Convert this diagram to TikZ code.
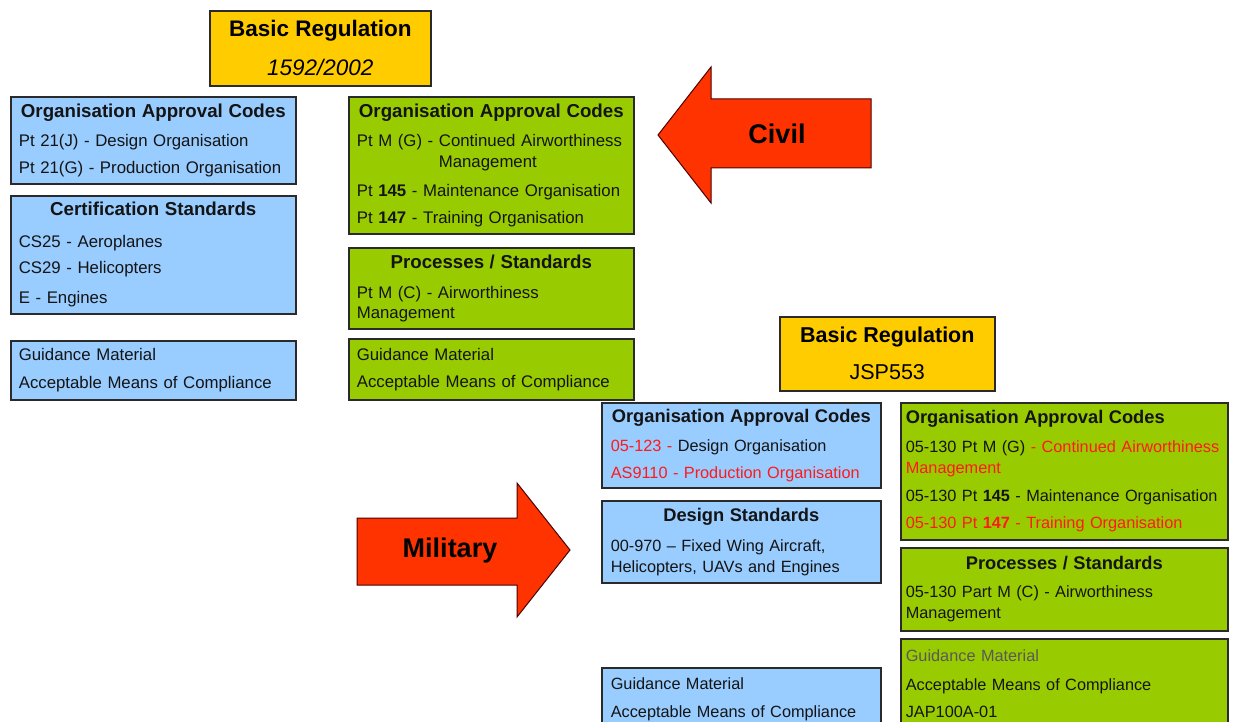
\documentclass[tikz,border=0pt]{standalone}
\usepackage{fontspec}
\setmainfont{Liberation Sans}
\setlength{\parindent}{0pt}

\definecolor{boxblue}{HTML}{99CCFF}
\definecolor{boxgreen}{HTML}{99CC00}
\definecolor{boxyellow}{HTML}{FFCC00}
\definecolor{arrowred}{HTML}{FF3300}
\definecolor{redtext}{HTML}{FF1A1A}
\definecolor{edgegray}{HTML}{2A2A2A}

\newcommand{\civfont}{\fontsize{16.8}{21}\selectfont}
\newcommand{\milfont}{\fontsize{16.3}{21}\selectfont}
\newcommand{\civhead}{\fontsize{18.7}{21}\selectfont\bfseries}
\newcommand{\milhead}{\fontsize{18.3}{21}\selectfont\bfseries}
\newcommand{\boxhead}[2]{\makebox[\hsize][c]{#1#2}}
\newcommand{\rd}[1]{\textcolor{redtext}{#1}}

\tikzset{
  box/.style={draw=edgegray, line width=1.6pt, anchor=north west, inner ysep=0pt, align=left, text=black!92},
  civbox/.style={box, inner xsep=8pt, text width=269pt, minimum width=285pt, minimum height=#1, font=\civfont},
  milLbox/.style={box, fill=boxblue, inner xsep=9pt, text width=261pt, minimum width=279pt, minimum height=#1, font=\milfont},
  milRbox/.style={box, fill=boxgreen, inner xsep=5pt, text width=317pt, minimum width=327pt, minimum height=#1, font=\milfont},
  regbox/.style={draw=edgegray, line width=1.6pt, fill=boxyellow, anchor=north west, align=center, inner sep=0pt},
  bigarrow/.style={fill=arrowred, draw=black!70!red, line width=1pt, line join=miter},
  arrowlabel/.style={font=\fontsize{27}{30}\selectfont\bfseries, inner sep=0pt}
}

\begin{document}
\begin{tikzpicture}[x=1pt, y=-1pt]
\useasboundingbox (0,0) rectangle (1237,722);

% civil side
\node[regbox, minimum width=221pt, minimum height=75pt, font=\fontsize{22.5}{39}\selectfont] (brcivil) at (209,10)
  {\textbf{Basic Regulation}\\\textit{1592/2002}};

\node[civbox=87pt, fill=boxblue] (oaccivL) at (10,96)
  {\boxhead{\civhead}{Organisation Approval Codes}\\[8pt]
   Pt 21(J) - Design Organisation\\[6pt]
   Pt 21(G) - Production Organisation};
\node[civbox=118pt, fill=boxblue] (certstd) at (10,195)
  {\boxhead{\civhead}{Certification Standards}\\[11pt]
   CS25 - Aeroplanes\\[5pt]
   CS29 - Helicopters\\[9pt]
   E - Engines};
\node[civbox=59pt, fill=boxblue] (gmcivL) at (10,340)
  {Guidance Material\\[7pt]
   Acceptable Means of Compliance};

\node[civbox=137pt, fill=boxgreen] (oaccivR) at (348,96)
  {\boxhead{\civhead}{Organisation Approval Codes}\\[8pt]
   Pt M (G) - Continued Airworthiness\\
   \hspace*{82pt}Management\\[8pt]
   Pt \textbf{145} - Maintenance Organisation\\[6pt]
   Pt \textbf{147} - Training Organisation};
\node[civbox=81pt, fill=boxgreen] (proccivR) at (348,247)
  {\boxhead{\civhead}{Processes / Standards}\\[9pt]
   Pt M (C) - Airworthiness\\[-1pt]
   Management};
\node[civbox=61pt, fill=boxgreen] (gmcivR) at (348,338)
  {Guidance Material\\[6pt]
   Acceptable Means of Compliance};

% arrows
\filldraw[bigarrow] (871,99) -- (711,99) -- (711,67) -- (658,135) -- (711,203) -- (711,168) -- (871,168) -- cycle;
\node[arrowlabel] (civil) at (777,134) {Civil};
\filldraw[bigarrow] (357,518) -- (517,518) -- (517,483) -- (570,550) -- (517,617) -- (517,585) -- (357,585) -- cycle;
\node[arrowlabel] (military) at (450,551) {Military};

% military side
\node[regbox, minimum width=215pt, minimum height=74pt, font=\fontsize{21.5}{37}\selectfont] (brmil) at (779,316)
  {\textbf{Basic Regulation}\\JSP553};

\node[milLbox=85pt] (oacmilL) at (601,402)
  {\boxhead{\milhead}{Organisation Approval Codes}\\[8pt]
   \rd{05-123 -} Design Organisation\\[6pt]
   \rd{AS9110 - Production Organisation}};
\node[milLbox=82pt] (designstd) at (601,500)
  {\boxhead{\milhead}{Design Standards}\\[9pt]
   00-970 -- Fixed Wing Aircraft,\\
   Helicopters, UAVs and Engines};
\node[milLbox=62pt] (gmmilL) at (601,667)
  {Guidance Material\\[7pt]
   Acceptable Means of Compliance};

\node[milRbox=137pt] (oacmilR) at (900,402)
  {{\milhead Organisation Approval Codes}\\[8pt]
   05-130 Pt M (G) \rd{- Continued Airworthiness}\\
   \rd{Management}\\[7pt]
   05-130 Pt \textbf{145} - Maintenance Organisation\\[6pt]
   \rd{05-130 Pt \textbf{147} - Training Organisation}};
\node[milRbox=83pt] (procmilR) at (900,547)
  {\boxhead{\milhead}{Processes / Standards}\\[7pt]
   05-130 Part M (C) - Airworthiness\\
   Management};
\node[milRbox=90pt] (gmmilR) at (900,638)
  {\textcolor{black!65}{Guidance Material}\\[8pt]
   Acceptable Means of Compliance\\[6pt]
   JAP100A-01};
\end{tikzpicture}
\end{document}
